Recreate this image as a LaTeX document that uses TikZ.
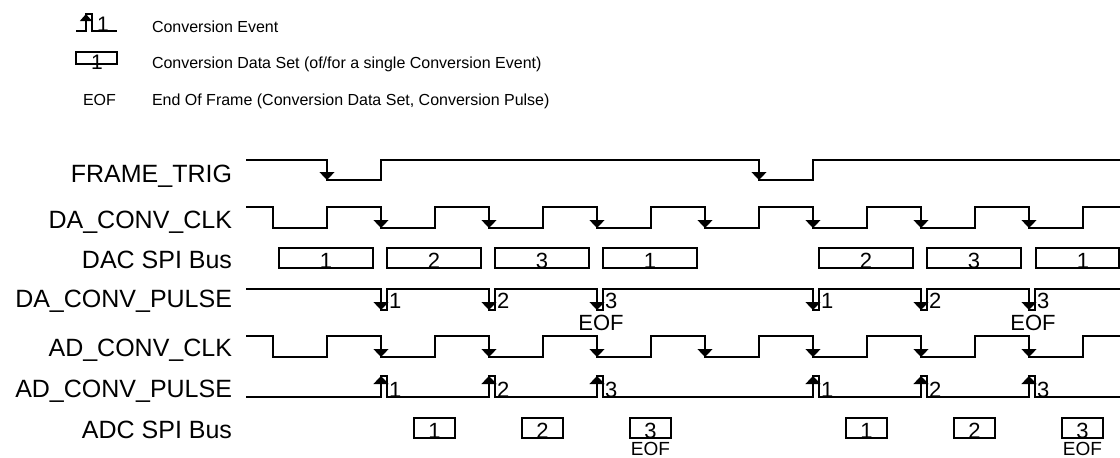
\documentclass[tikz,border=0pt]{standalone}
\usepackage{fontspec}
\setmainfont{Liberation Sans}
\newcommand*{\sigfont}{\fontsize{25}{30}\selectfont}
\newcommand*{\numfont}{\fontsize{22}{26}\selectfont}
\newcommand*{\eoffont}{\fontsize{19}{23}\selectfont}
\newcommand*{\legfont}{\fontsize{16}{19}\selectfont}
\newcommand*{\legnumfont}{\fontsize{21}{25}\selectfont}
\usepackage{tikz}
\usetikzlibrary{arrows.meta}
\tikzstyle{base}=[inner sep=0pt, outer sep=0pt]
\tikzstyle{wave}=[black, line width=1.2pt]
\tikzstyle{edge}=[wave, -{Triangle[width=15pt,length=8pt]}]
\tikzstyle{legedge}=[wave, -{Triangle[width=12pt,length=7pt]}]
\tikzstyle{siglabel}=[anchor=base east, font=\sigfont]
\tikzstyle{num}=[font=\numfont]
\tikzstyle{leg}=[anchor=base west, font=\legfont]
\tikzstyle{dacbox}=[draw, wave, minimum width=94pt, text height=20pt, text depth=0pt, font=\numfont]
\tikzstyle{adcbox}=[dacbox, minimum width=41pt]

\begin{document}
\begin{tikzpicture}[base, x=1pt, y=-1pt]
    \path [use as bounding box] (0,0) rectangle (1120,458);

    % legend
    \draw [wave] (76,31) -- (86,31) -- (86,14) -- (92,14) -- (92,31) -- (117,31);
    \draw [legedge] (86,31) -- (86,14);
    \node [anchor=base west, font=\legnumfont] (legpulse) at (97,31) {1};
    \node [draw, wave, minimum width=41pt, minimum height=12pt] (legbox) at (96.5,58) {};
    \node [anchor=base, font=\legnumfont] (legnum) at (97,69) {1};
    \node [leg] (legeof) at (83,105) {EOF};
    \node [leg] (txtevent) at (152,32) {Conversion Event};
    \node [leg] (txtset) at (152,68) {Conversion Data Set (of/for a single Conversion Event)};
    \node [leg] (txteof) at (152,105) {End Of Frame (Conversion Data Set, Conversion Pulse)};

    % signal names
    \node [siglabel] (frame) at (232,182) {FRAME\_TRIG};
    \node [siglabel] (daclk) at (232,228) {DA\_CONV\_CLK};
    \node [siglabel] (dacspi) at (232,268) {DAC SPI Bus};
    \node [siglabel] (dapulse) at (232,307) {DA\_CONV\_PULSE};
    \node [siglabel] (adclk) at (232,356) {AD\_CONV\_CLK};
    \node [siglabel] (adpulse) at (232,397) {AD\_CONV\_PULSE};
    \node [siglabel] (adcspi) at (232,438) {ADC SPI Bus};

    % FRAME_TRIG
    \draw [wave] (246,160) -- (327,160) -- (327,180) -- (381,180) -- (381,160)
        -- (759,160) -- (759,180) -- (813,180) -- (813,160) -- (1120,160);
    \foreach \x in {327,759} \draw [edge] (\x,160) -- (\x,180);

    % DA_CONV_CLK
    \draw [wave] (246,207) \foreach \x in {273,381,...,1029}
        { -- (\x,207) -- (\x,228) -- ({\x+54},228) -- ({\x+54},207) } -- (1120,207);
    \foreach \x in {381,489,...,1029} \draw [edge] (\x,207) -- (\x,228);

    % DAC SPI Bus
    \foreach \x/\n [count=\i] in {273/1,381/2,489/3,597/1,813/2,921/3}
        \node [dacbox] (dac\i) at ({\x+53},258) {\n};
    \node [dacbox, minimum width=83pt] (dac7) at (1077.5,258) {};
    \node [num, anchor=base] (dac7num) at (1083,268) {1};

    % DA_CONV_PULSE
    \draw [wave] (246,289) \foreach \x in {381,489,597,813,921,1029}
        { -- (\x,289) -- (\x,310) -- ({\x+6},310) -- ({\x+6},289) } -- (1120,289);
    \foreach \x/\n [count=\i] in {381/1,489/2,597/3,813/1,921/2,1029/3} {
        \draw [edge] (\x,289) -- (\x,310);
        \node [num, anchor=base west] (dap\i) at ({\x+8},308) {\n};
    }
    \node [num, anchor=base] (daeof1) at (601,330) {EOF};
    \node [num, anchor=base] (daeof2) at (1033,330) {EOF};

    % AD_CONV_CLK
    \draw [wave] (246,336) \foreach \x in {273,381,...,1029}
        { -- (\x,336) -- (\x,357) -- ({\x+54},357) -- ({\x+54},336) } -- (1120,336);
    \foreach \x in {381,489,...,1029} \draw [edge] (\x,336) -- (\x,357);

    % AD_CONV_PULSE
    \draw [wave] (246,397) \foreach \x in {381,489,597,813,921,1029}
        { -- (\x,397) -- (\x,376) -- ({\x+6},376) -- ({\x+6},397) } -- (1120,397);
    \foreach \x/\n [count=\i] in {381/1,489/2,597/3,813/1,921/2,1029/3} {
        \draw [edge] (\x,397) -- (\x,376);
        \node [num, anchor=base west] (adp\i) at ({\x+8},397) {\n};
    }

    % ADC SPI Bus
    \foreach \x/\n [count=\i] in {381/1,489/2,597/3,813/1,921/2,1029/3}
        \node [adcbox] (adc\i) at ({\x+53.5},428) {\n};
    \node [font=\eoffont, anchor=base] (adceof1) at (adc3.south |- 0,455) {EOF};
    \node [font=\eoffont, anchor=base] (adceof2) at (adc6.south |- 0,455) {EOF};
\end{tikzpicture}
\end{document}
